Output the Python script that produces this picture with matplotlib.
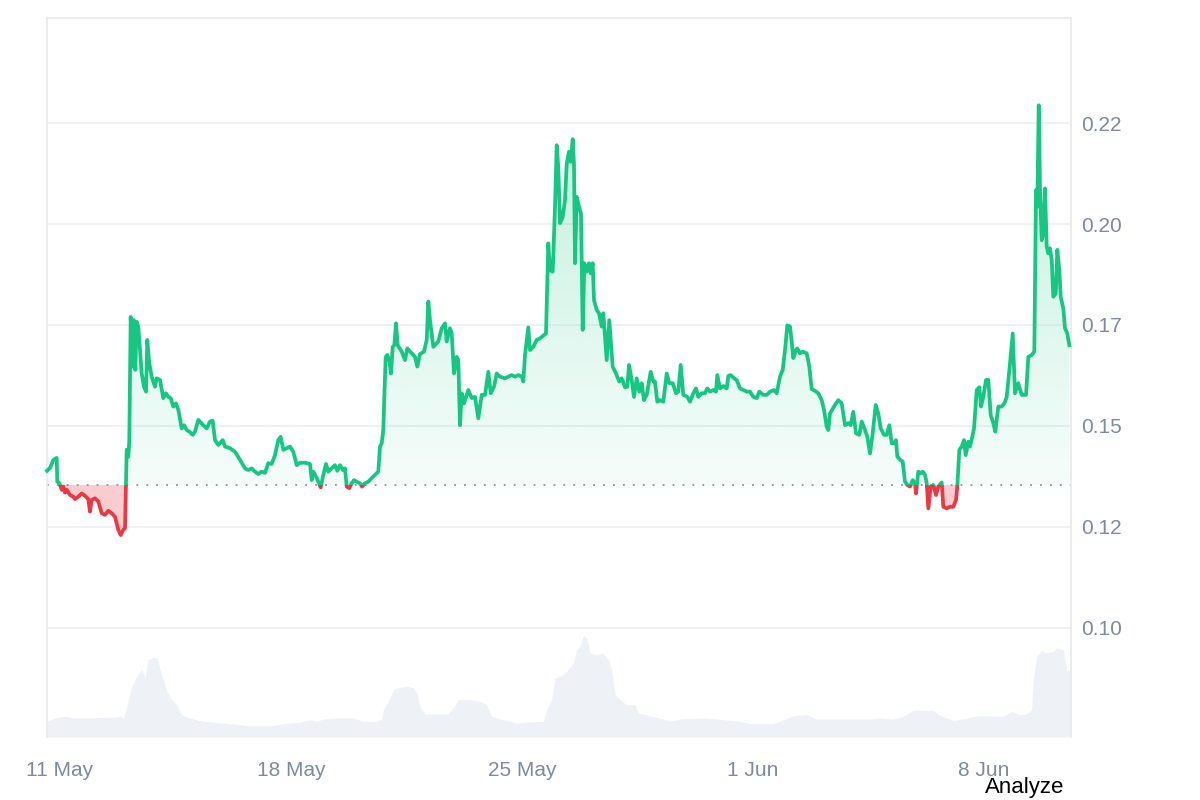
import numpy as np
import pandas as pd
import matplotlib
matplotlib.use("Agg")
import matplotlib.pyplot as plt
import matplotlib.dates as mdates
from matplotlib.patches import Rectangle
from matplotlib.path import Path

plt.rcParams['font.family'] = ['Liberation Sans', 'DejaVu Sans']

# price series: days after 11 May, price in USD
days = [
    -0.394, -0.303, -0.203, -0.100, -0.082, -0.021, 0.052, 0.100, 0.152, 0.203,
    0.303, 0.403, 0.455, 0.555, 0.658, 0.758, 0.858, 0.909, 0.961, 1.061,
    1.161, 1.264, 1.364, 1.464, 1.567, 1.667, 1.767, 1.839, 1.918, 1.970,
    2.000, 2.021, 2.070, 2.100, 2.142, 2.203, 2.242, 2.282, 2.324, 2.373,
    2.424, 2.476, 2.545, 2.606, 2.645, 2.706, 2.779, 2.879, 2.930, 3.030,
    3.130, 3.212, 3.282, 3.355, 3.433, 3.515, 3.585, 3.688, 3.758, 3.839,
    3.918, 4.021, 4.091, 4.191, 4.342, 4.445, 4.545, 4.627, 4.697, 4.797,
    4.930, 5.000, 5.152, 5.303, 5.455, 5.606, 5.706, 5.809, 5.909, 6.009,
    6.112, 6.212, 6.312, 6.415, 6.515, 6.615, 6.688, 6.767, 6.870, 6.970,
    7.070, 7.173, 7.273, 7.424, 7.576, 7.627, 7.676, 7.779, 7.900, 7.979,
    8.061, 8.130, 8.233, 8.333, 8.403, 8.485, 8.567, 8.636, 8.688, 8.767,
    8.839, 8.909, 8.991, 9.091, 9.152, 9.242, 9.342, 9.445, 9.545, 9.645,
    9.697, 9.748, 9.797, 9.827, 9.870, 9.918, 9.979, 10.030, 10.082, 10.130,
    10.182, 10.233, 10.355, 10.455, 10.524, 10.658, 10.758, 10.827, 10.909, 11.030,
    11.112, 11.161, 11.212, 11.312, 11.464, 11.567, 11.667, 11.718, 11.818, 11.870,
    11.939, 12.021, 12.070, 12.121, 12.173, 12.242, 12.373, 12.476, 12.576, 12.676,
    12.779, 12.879, 12.979, 13.052, 13.152, 13.233, 13.333, 13.485, 13.585, 13.688,
    13.788, 13.888, 13.991, 14.039, 14.091, 14.191, 14.242, 14.342, 14.445, 14.545,
    14.667, 14.727, 14.797, 14.848, 14.930, 15.000, 15.052, 15.100, 15.152, 15.233,
    15.303, 15.355, 15.424, 15.476, 15.536, 15.576, 15.606, 15.658, 15.727, 15.788,
    15.839, 15.888, 15.961, 16.030, 16.082, 16.142, 16.182, 16.264, 16.333, 16.415,
    16.464, 16.567, 16.645, 16.748, 16.848, 16.948, 17.021, 17.121, 17.191, 17.242,
    17.324, 17.394, 17.476, 17.555, 17.627, 17.697, 17.779, 17.900, 17.979, 18.030,
    18.100, 18.182, 18.282, 18.385, 18.464, 18.567, 18.667, 18.736, 18.809, 18.888,
    19.009, 19.091, 19.191, 19.273, 19.342, 19.445, 19.545, 19.615, 19.697, 19.797,
    19.879, 19.918, 20.000, 20.100, 20.203, 20.252, 20.324, 20.424, 20.506, 20.606,
    20.706, 20.809, 20.909, 21.009, 21.112, 21.191, 21.312, 21.415, 21.515, 21.636,
    21.718, 21.818, 21.900, 21.970, 22.039, 22.121, 22.173, 22.221, 22.303, 22.342,
    22.424, 22.506, 22.627, 22.706, 22.779, 22.879, 22.979, 23.082, 23.152, 23.233,
    23.282, 23.333, 23.485, 23.585, 23.688, 23.788, 23.888, 23.961, 24.039, 24.121,
    24.221, 24.294, 24.394, 24.464, 24.545, 24.627, 24.718, 24.797, 24.870, 24.970,
    25.052, 25.130, 25.203, 25.273, 25.333, 25.373, 25.455, 25.536, 25.606, 25.676,
    25.758, 25.839, 25.909, 25.939, 26.009, 26.082, 26.142, 26.212, 26.264, 26.312,
    26.385, 26.464, 26.545, 26.615, 26.718, 26.767, 26.870, 26.970, 27.070, 27.152,
    27.191, 27.252, 27.324, 27.394, 27.445, 27.524, 27.576, 27.645, 27.697, 27.779,
    27.858, 27.909, 27.979, 28.061, 28.130, 28.203, 28.282, 28.342, 28.433, 28.536,
    28.615, 28.688, 28.788, 28.870, 28.939, 29.039, 29.142, 29.273, 29.342, 29.445,
    29.524, 29.576, 29.615, 29.658, 29.697, 29.748, 29.797, 29.848, 29.900, 29.948,
    30.000, 30.052, 30.100, 30.173, 30.221, 30.282, 30.324, 30.403, 30.455, 30.524,
    30.585,
]
prices = [
    0.1389, 0.1396, 0.1416, 0.1421, 0.1362, 0.1359, 0.1342, 0.1350, 0.1335, 0.1342,
    0.1329, 0.1325, 0.1319, 0.1325, 0.1333, 0.1327, 0.1319, 0.1288, 0.1317, 0.1321,
    0.1313, 0.1284, 0.1280, 0.1290, 0.1284, 0.1275, 0.1243, 0.1230, 0.1243, 0.1247,
    0.1359, 0.1441, 0.1424, 0.1465, 0.1770, 0.1647, 0.1762, 0.1639, 0.1758, 0.1746,
    0.1688, 0.1630, 0.1597, 0.1585, 0.1713, 0.1655, 0.1622, 0.1597, 0.1618, 0.1614,
    0.1569, 0.1581, 0.1572, 0.1569, 0.1548, 0.1556, 0.1540, 0.1494, 0.1502, 0.1490,
    0.1486, 0.1478, 0.1486, 0.1515, 0.1502, 0.1494, 0.1511, 0.1513, 0.1465, 0.1453,
    0.1465, 0.1449, 0.1445, 0.1436, 0.1416, 0.1395, 0.1391, 0.1395, 0.1387, 0.1381,
    0.1387, 0.1384, 0.1408, 0.1406, 0.1428, 0.1465, 0.1473, 0.1441, 0.1445, 0.1449,
    0.1436, 0.1403, 0.1409, 0.1409, 0.1406, 0.1366, 0.1387, 0.1371, 0.1348, 0.1379,
    0.1406, 0.1387, 0.1395, 0.1403, 0.1389, 0.1403, 0.1391, 0.1395, 0.1350, 0.1346,
    0.1358, 0.1366, 0.1362, 0.1358, 0.1350, 0.1358, 0.1362, 0.1371, 0.1379, 0.1387,
    0.1449, 0.1457, 0.1490, 0.1572, 0.1671, 0.1676, 0.1663, 0.1630, 0.1696, 0.1700,
    0.1754, 0.1700, 0.1684, 0.1663, 0.1692, 0.1680, 0.1671, 0.1647, 0.1678, 0.1684,
    0.1713, 0.1808, 0.1762, 0.1696, 0.1709, 0.1742, 0.1754, 0.1709, 0.1742, 0.1729,
    0.1630, 0.1671, 0.1663, 0.1502, 0.1581, 0.1556, 0.1589, 0.1569, 0.1572, 0.1519,
    0.1577, 0.1577, 0.1634, 0.1581, 0.1597, 0.1630, 0.1622, 0.1618, 0.1622, 0.1626,
    0.1622, 0.1626, 0.1622, 0.1610, 0.1676, 0.1744, 0.1688, 0.1696, 0.1713, 0.1717,
    0.1725, 0.1729, 0.1952, 0.1886, 0.1882, 0.2043, 0.2195, 0.2138, 0.2002, 0.2018,
    0.2059, 0.2150, 0.2179, 0.2154, 0.2210, 0.2146, 0.1903, 0.2067, 0.2043, 0.2026,
    0.1738, 0.1903, 0.1882, 0.1903, 0.1878, 0.1903, 0.1812, 0.1787, 0.1779, 0.1746,
    0.1779, 0.1663, 0.1762, 0.1647, 0.1630, 0.1610, 0.1618, 0.1596, 0.1597, 0.1651,
    0.1614, 0.1572, 0.1618, 0.1585, 0.1606, 0.1564, 0.1577, 0.1634, 0.1610, 0.1610,
    0.1560, 0.1564, 0.1560, 0.1630, 0.1606, 0.1606, 0.1581, 0.1585, 0.1651, 0.1577,
    0.1572, 0.1560, 0.1581, 0.1593, 0.1572, 0.1581, 0.1581, 0.1593, 0.1585, 0.1589,
    0.1585, 0.1626, 0.1593, 0.1599, 0.1593, 0.1624, 0.1626, 0.1618, 0.1614, 0.1593,
    0.1589, 0.1585, 0.1585, 0.1572, 0.1569, 0.1585, 0.1577, 0.1577, 0.1585, 0.1589,
    0.1581, 0.1622, 0.1639, 0.1688, 0.1749, 0.1746, 0.1709, 0.1668, 0.1688, 0.1692,
    0.1680, 0.1684, 0.1680, 0.1647, 0.1591, 0.1587, 0.1581, 0.1564, 0.1540, 0.1498,
    0.1490, 0.1531, 0.1552, 0.1564, 0.1556, 0.1502, 0.1507, 0.1502, 0.1535, 0.1482,
    0.1478, 0.1511, 0.1490, 0.1473, 0.1432, 0.1482, 0.1552, 0.1531, 0.1494, 0.1478,
    0.1478, 0.1502, 0.1457, 0.1457, 0.1465, 0.1424, 0.1416, 0.1412, 0.1362, 0.1354,
    0.1350, 0.1366, 0.1358, 0.1333, 0.1387, 0.1383, 0.1387, 0.1379, 0.1358, 0.1296,
    0.1350, 0.1354, 0.1329, 0.1350, 0.1360, 0.1300, 0.1296, 0.1300, 0.1300, 0.1317,
    0.1350, 0.1441, 0.1449, 0.1465, 0.1428, 0.1461, 0.1449, 0.1473, 0.1494, 0.1589,
    0.1596, 0.1548, 0.1572, 0.1614, 0.1614, 0.1527, 0.1507, 0.1486, 0.1548, 0.1548,
    0.1556, 0.1572, 0.1655, 0.1729, 0.1581, 0.1606, 0.1577, 0.1577, 0.1671, 0.1676,
    0.1684, 0.2084, 0.2043, 0.2294, 0.2092, 0.1960, 0.1977, 0.2088, 0.1944, 0.1927,
    0.1940, 0.1911, 0.1820, 0.1828, 0.1936, 0.1886, 0.1820, 0.1791, 0.1742, 0.1729,
    0.1700,
]

# volume series (millions), days after 11 May
vol_days = [
    -0.403, -0.100, 0.203, 0.403, 0.909, 1.718, 1.818, 1.918, 2.021, 2.173,
    2.324, 2.476, 2.576, 2.676, 2.827, 2.948, 3.030, 3.130, 3.233, 3.385,
    3.536, 3.688, 3.839, 4.039, 4.342, 4.948, 5.658, 6.464, 6.767, 7.273,
    7.576, 7.779, 7.979, 8.485, 8.888, 9.191, 9.597, 9.748, 9.797, 9.948,
    10.100, 10.303, 10.506, 10.706, 10.809, 10.909, 11.061, 11.415, 11.767, 11.870,
    12.070, 12.424, 12.727, 12.930, 13.082, 13.333, 13.636, 13.839, 14.039, 14.645,
    14.748, 14.900, 15.000, 15.152, 15.355, 15.555, 15.658, 15.758, 15.858, 15.961,
    16.061, 16.264, 16.464, 16.615, 16.718, 16.818, 16.970, 17.173, 17.424, 17.524,
    17.879, 18.182, 18.485, 18.788, 19.494, 20.100, 20.606, 20.909, 21.615, 21.918,
    22.221, 22.627, 22.930, 23.939, 24.545, 24.848, 25.252, 25.555, 25.858, 26.464,
    26.615, 26.870, 27.070, 27.373, 27.676, 27.979, 28.585, 28.839, 29.091, 29.294,
    29.445, 29.494, 29.597, 29.748, 29.900, 30.100, 30.203, 30.403, 30.506, 30.636,
]
volumes = [
    1.57, 1.97, 2.07, 1.90, 1.90, 2.00, 2.13, 1.80, 3.07, 5.07,
    6.07, 6.73, 5.90, 7.73, 7.97, 7.90, 6.73, 5.73, 4.57, 3.73,
    3.23, 2.23, 2.00, 1.80, 1.57, 1.40, 1.13, 1.13, 1.33, 1.47,
    1.73, 1.57, 1.80, 1.90, 1.90, 1.57, 1.57, 1.80, 2.73, 3.57,
    4.73, 4.97, 5.07, 4.90, 4.40, 3.00, 2.30, 2.30, 2.30, 2.73,
    3.73, 3.73, 3.57, 3.23, 2.07, 1.80, 1.57, 1.40, 1.47, 1.57,
    2.73, 3.73, 5.90, 6.07, 6.57, 7.40, 8.73, 9.07, 10.13, 9.90,
    8.40, 8.23, 8.40, 7.73, 6.73, 4.23, 3.73, 3.23, 3.23, 2.40,
    2.13, 1.90, 1.57, 1.80, 1.90, 1.73, 1.57, 1.33, 1.33, 1.73,
    2.13, 2.23, 1.80, 1.80, 1.80, 1.90, 1.80, 2.07, 2.67, 2.67,
    2.23, 1.90, 1.67, 1.80, 2.07, 2.13, 2.07, 2.57, 2.23, 2.33,
    2.73, 5.73, 8.07, 8.67, 8.40, 8.57, 8.90, 8.73, 6.57, 6.73,
]

base_price = 0.1354
y_ticks = [0.100, 0.125, 0.150, 0.175, 0.200, 0.225]
y_labels = ['0.10', '0.12', '0.15', '0.17', '0.20', '0.22']
x_tick_dates = ['2025-05-11', '2025-05-18', '2025-05-25', '2025-06-01', '2025-06-08']

GREEN = '#16c784'
RED = '#ea3943'
GRAY = '#808a9d'
GRID = '#eff2f5'

start = pd.Timestamp('2025-05-11')
x = mdates.date2num(start + pd.to_timedelta(days, unit='D'))
xv = mdates.date2num(start + pd.to_timedelta(vol_days, unit='D'))
p = np.array(prices)

fig = plt.figure(figsize=(12, 8), dpi=100)
ax = fig.add_axes([47 / 1200, 1 - 737 / 800, 1024 / 1200, 719 / 800])
axv = ax.twinx()
ax.set_zorder(axv.get_zorder() + 1)
ax.patch.set_visible(False)

xmin = mdates.date2num(start + pd.Timedelta(days=-0.394))
xmax = mdates.date2num(start + pd.Timedelta(days=30.636))
ylo, yhi = 0.0730, 0.2510

# volume
axv.fill_between(xv, volumes, 0, color='#eef1f5', lw=0)
axv.set_ylim(0, 71.9)
axv.set_yticks([])
for s in axv.spines.values():
    s.set_visible(False)

# grid
for t in y_ticks:
    ax.axhline(t, color=GRID, lw=1.4, zorder=0)

# green gradient fill above the base line
up = ax.fill_between(x, p, base_price, where=p >= base_price, interpolate=True,
                     color='none', lw=0)
grad = np.zeros((256, 1, 4))
grad[:, 0, 0:3] = matplotlib.colors.to_rgb(GREEN)
grad[:, 0, 3] = np.linspace(0.04, 0.27, 256)
img = ax.imshow(grad, extent=[xmin, xmax, base_price, 0.23], origin='lower',
                aspect='auto', zorder=1, interpolation='bilinear')
clip = Path.make_compound_path(*up.get_paths())
img.set_clip_path(clip, ax.transData)

# red fill below
ax.fill_between(x, p, base_price, where=p <= base_price, interpolate=True,
                color=RED, alpha=0.25, lw=0, zorder=1)

# line, green above base, red below
g_line, = ax.plot(x, p, color=GREEN, lw=2.7, zorder=3, solid_joinstyle='round')
r_line, = ax.plot(x, p, color=RED, lw=2.7, zorder=3, solid_joinstyle='round')
g_clip = Rectangle((xmin - 1, base_price), xmax - xmin + 2, 1, transform=ax.transData)
r_clip = Rectangle((xmin - 1, 0), xmax - xmin + 2, base_price, transform=ax.transData)
g_line.set_clip_path(g_clip)
r_line.set_clip_path(r_clip)

ax.axhline(base_price, color='#8a939f', lw=1.3, ls=(0, (1, 4.5)), zorder=2)

ax.set_xlim(xmin, xmax)
ax.set_ylim(ylo, yhi)

ax.yaxis.tick_right()
ax.set_yticks(y_ticks)
ax.set_yticklabels(y_labels)
tick_x = mdates.date2num(pd.to_datetime(x_tick_dates))
ax.set_xticks(tick_x)
ax.set_xticklabels([f"{d.day} {d:%b}" for d in pd.to_datetime(x_tick_dates)])
ax.tick_params(axis='y', length=0, pad=7, labelsize=15, labelcolor=GRAY)
ax.tick_params(axis='x', length=0, pad=17, labelsize=15, labelcolor=GRAY)

for name, s in ax.spines.items():
    s.set_color('#e6e9ee')
    s.set_linewidth(1.2)
ax.spines['bottom'].set_visible(False)

fig.text(1025 / 1200, 1 - 788 / 800, 'Analyze', ha='center', va='center',
         fontsize=16, color='black')

fig.savefig('out.png', dpi=100)
